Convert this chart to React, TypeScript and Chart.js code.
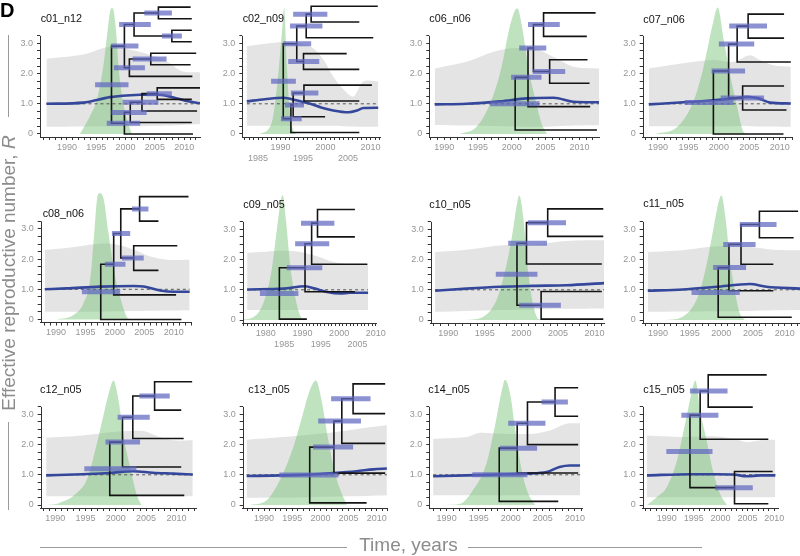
import React, { useEffect, useRef } from 'react';
import { Chart, registerables } from 'chart.js';

Chart.register(...registerables);

const FONT = "Arial, 'Liberation Sans', Helvetica, sans-serif";
const W = 800;
const H = 556;

// ---------------- data ----------------
const PANEL_NAMES = ['c01_n12', 'c02_n09', 'c06_n06', 'c07_n06', 'c08_n06', 'c09_n05', 'c10_n05', 'c11_n05', 'c12_n05', 'c13_n05', 'c14_n05', 'c15_n05'];

// time axis domain per panel (years)
const X_DOMAIN = [
  [1985.4, 2012.7], [1981.5, 2012.1], [1987.8, 2012.9], [1987.5, 2012.0],
  [1987.4, 2013.1], [1973.7, 2010.3], [1987.6, 2011.3], [1987.6, 2012.4],
  [1987.6, 2013.4], [1986.2, 2012.0], [1987.3, 2011.1], [1985.5, 2010.7],
];
const YEARS_1990 = [1990, 1995, 2000, 2005, 2010];
const YEARS_1985 = [1985, 1990, 1995, 2000, 2005, 2010];
const YEARS_1980 = [1980, 1985, 1990, 1995, 2000, 2005, 2010];
const X_LABELED_YEARS = [YEARS_1990, YEARS_1985, YEARS_1990, YEARS_1990, YEARS_1990, YEARS_1980, YEARS_1990, YEARS_1990, YEARS_1990, YEARS_1990, YEARS_1990, YEARS_1990];
const R_LABELS = [0, 1, 2, 3];
const R_MINOR_STEP = 0.25;
const R_AXIS_TOP = 3.25;

// effective reproductive number (median) [year, R]
const RT_LINES = [
  [[1986.5, 1.0], [1992.8, 1.04], [1997.35, 1.22], [2002.5, 1.3], [2005.3, 1.31], [2008.2, 1.21], [2010.2, 1.1], [2012.7, 1.02]],
  [[1982.5, 1.08], [1986.5, 1.15], [1990.6, 1.2], [1993.5, 1.12], [1996.6, 1.0], [1999, 0.88], [2001.7, 0.78], [2005.1, 0.72], [2007, 0.78], [2008.4, 0.86], [2011.7, 0.87]],
  [[1988.6, 0.98], [1993.3, 1.0], [1998.3, 1.08], [2002.2, 1.18], [2006.2, 1.2], [2009.1, 1.07], [2012.9, 1.05]],
  [[1988.5, 0.98], [1994.2, 1.05], [1999.1, 1.12], [2002.4, 1.18], [2004.6, 1.23], [2006.5, 1.18], [2008.4, 1.04], [2011.8, 1.01]],
  [[1988.1, 1.0], [1991.8, 1.03], [1997.5, 1.09], [2003.2, 1.11], [2004.9, 1.09], [2007.7, 0.96], [2010.0, 0.92], [2012.7, 0.92]],
  [[1974.9, 1.01], [1984.8, 1.04], [1990.7, 1.12], [1993.4, 1.04], [1996.7, 0.93], [2000.3, 0.88], [2003.0, 0.9], [2007.9, 0.9]],
  [[1988.2, 0.97], [1992.5, 1.04], [1997.1, 1.1], [2001.6, 1.13], [2006.2, 1.15], [2011.3, 1.22]],
  [[1988.4, 0.97], [1993.9, 1.01], [1999.2, 1.1], [2004.5, 1.19], [2007.1, 1.1], [2012.4, 1.04]],
  [[1988.5, 0.98], [1994.5, 1.02], [1999.0, 1.06], [2002.8, 1.12], [2006.1, 1.07], [2009.5, 1.04], [2012.7, 1.01]],
  [[1986.9, 0.96], [1993.4, 0.98], [1998.1, 1.01], [2002.3, 1.06], [2006.4, 1.12], [2009.4, 1.18], [2011.8, 1.21]],
  [[1987.9, 0.95], [1993.1, 0.98], [1998.3, 1.01], [2002.5, 1.04], [2005.6, 1.09], [2007.6, 1.26], [2009.2, 1.31], [2010.8, 1.31]],
  [[1986.3, 0.98], [1994.3, 1.02], [1999.3, 1.02], [2002.4, 1.01], [2004.9, 0.95], [2007.4, 0.98], [2010.2, 0.98]],
];

// credible band of R: [year, lower, upper]
const BANDS = [
  [[1986.5, 0.24, 2.49], [1992.8, 0.25, 2.63], [1997.35, 0.25, 2.88], [2003.0, 0.26, 2.69], [2007.0, 0.28, 2.41], [2009.6, 0.3, 2.08], [2012.7, 0.33, 2.04]],
  [[1982.5, 0.27, 2.91], [1990.6, 0.27, 3.04], [1996.6, 0.27, 2.9], [1999.5, 0.27, 2.47], [2001.7, 0.27, 1.9], [2004.0, 0.26, 1.47], [2006.2, 0.25, 1.24], [2008.4, 0.24, 1.74], [2011.7, 0.24, 1.74]],
  [[1988.6, 0.3, 2.17], [1993.3, 0.28, 2.39], [1998.3, 0.26, 2.78], [2003.2, 0.24, 2.83], [2006.65, 0.26, 2.5], [2009.1, 0.28, 2.23], [2012.9, 0.3, 2.17]],
  [[1988.5, 0.26, 2.17], [1994.2, 0.26, 2.34], [1999.1, 0.26, 2.45], [2002.4, 0.26, 2.39], [2005.1, 0.26, 2.61], [2006.75, 0.25, 2.45], [2008.9, 0.25, 2.28], [2011.8, 0.24, 2.23]],
  [[1988.1, 0.26, 2.31], [1991.8, 0.26, 2.37], [1997.5, 0.26, 2.51], [2000.3, 0.27, 2.48], [2003.2, 0.28, 2.31], [2006.0, 0.29, 2.09], [2008.9, 0.3, 1.98], [2012.7, 0.31, 1.98]],
  [[1974.9, 0.33, 2.22], [1984.8, 0.33, 2.29], [1989.4, 0.33, 2.25], [1993.9, 0.33, 2.11], [1998.5, 0.33, 1.92], [2003.0, 0.33, 1.84], [2007.9, 0.33, 1.84]],
  [[1988.2, 0.27, 2.25], [1992.5, 0.3, 2.33], [1997.1, 0.33, 2.47], [2001.6, 0.35, 2.5], [2006.2, 0.37, 2.62], [2011.3, 0.38, 2.64]],
  [[1988.4, 0.27, 2.25], [1993.9, 0.28, 2.31], [1999.2, 0.29, 2.44], [2004.5, 0.3, 2.42], [2008.2, 0.32, 2.33], [2012.4, 0.33, 2.31]],
  [[1988.5, 0.29, 2.23], [1994.5, 0.29, 2.3], [1999.0, 0.29, 2.41], [2004.5, 0.29, 2.45], [2007.2, 0.29, 2.25], [2009.5, 0.29, 2.14], [2012.7, 0.29, 2.14]],
  [[1986.9, 0.24, 2.16], [1993.4, 0.25, 2.25], [1998.1, 0.26, 2.33], [2002.3, 0.28, 2.41], [2008.2, 0.3, 2.56], [2011.8, 0.32, 2.64]],
  [[1987.9, 0.32, 2.19], [1993.1, 0.32, 2.25], [1995.2, 0.32, 2.39], [1998.3, 0.32, 2.36], [2003.5, 0.32, 2.36], [2006.1, 0.32, 2.47], [2008.7, 0.32, 2.69], [2010.8, 0.32, 2.71]],
  [[1986.3, 0.26, 2.3], [1993.1, 0.26, 2.25], [1999.3, 0.26, 2.27], [2002.4, 0.26, 2.19], [2004.9, 0.26, 2.08], [2007.4, 0.26, 2.14], [2010.2, 0.26, 2.16]],
];

// root-height density (scaled) [year, height]
const DENSITIES = [
  [[1992.2, 0], [1993.9, 0.58], [1995.1, 1.13], [1996.2, 2.24], [1996.9, 3.36], [1997.46, 4.13], [1997.7, 4.17], [1997.9, 4.13], [1998.4, 3.36], [1998.8, 2.24], [1999.5, 1.13], [2000.1, 0.58], [2001.1, 0]],
  [[1985.4, 0], [1988.0, 0.36], [1989.3, 1.69], [1990.3, 3.36], [1990.8, 4.19], [1991.4, 2.24], [1992.0, 0.8], [1992.8, 0.13], [1993.6, 0]],
  [[1992.3, 0], [1994.8, 0.24], [1997.0, 1.12], [1998.5, 2.23], [1999.7, 3.55], [2000.8, 4.16], [2001.6, 3.44], [2002.4, 2.23], [2003.4, 1.23], [2004.4, 0.35], [2005.2, 0]],
  [[1989.6, 0], [1993.2, 0.24], [1995.9, 1.12], [1997.5, 2.23], [1998.9, 3.55], [1999.8, 4.19], [2000.8, 3.11], [2001.9, 1.9], [2003.0, 0.9], [2004.0, 0.08], [2004.6, 0]],
  [[1990.1, 0], [1992.9, 0.14], [1994.65, 0.53], [1995.8, 1.31], [1996.5, 2.87], [1997.0, 4.03], [1997.4, 4.18], [1998.1, 3.98], [1998.9, 2.87], [2000.05, 1.42], [2001.2, 0.53], [2002.0, 0.09], [2002.6, 0]],
  [[1973.7, 0.02], [1975.7, 0.05], [1979.3, 0.55], [1981.6, 1.65], [1983.0, 2.97], [1984.1, 3.96], [1984.6, 4.14], [1985.5, 3.3], [1986.6, 1.87], [1988.0, 0.77], [1989.3, 0.16], [1990.7, 0]],
  [[1992.5, 0], [1994.8, 0.11], [1996.6, 0.66], [1997.8, 1.65], [1998.7, 2.75], [1999.4, 3.85], [1999.7, 4.12], [2000.3, 3.3], [2000.8, 1.87], [2001.4, 0.77], [2002.1, 0.11], [2002.6, 0]],
  [[1991.3, 0], [1993.9, 0.11], [1996.3, 0.77], [1997.6, 1.76], [1998.7, 2.97], [1999.5, 3.85], [2000.0, 4.12], [2000.7, 3.3], [2001.3, 2.09], [2002.1, 0.99], [2002.9, 0.22], [2003.7, 0]],
  [[1988.5, 0], [1990.7, 0.07], [1993.4, 0.37], [1995.4, 0.93], [1997.0, 2.14], [1998.4, 3.35], [1999.2, 3.96], [1999.6, 4.12], [2000.3, 3.64], [2001.4, 2.14], [2002.6, 1.04], [2003.4, 0.37], [2004.2, 0]],
  [[1987.5, 0], [1990.4, 0.15], [1992.8, 0.82], [1995.2, 1.92], [1996.9, 3.02], [1998.1, 3.79], [1999.2, 4.12], [2000.2, 3.46], [2001.4, 2.14], [2002.6, 1.04], [2003.8, 0.37], [2004.7, 0]],
  [[1990.0, 0], [1992.1, 0.04], [1994.1, 0.49], [1996.2, 1.37], [1997.5, 2.58], [1998.6, 3.79], [1999.1, 4.15], [1999.9, 3.68], [2000.7, 2.47], [2001.7, 1.15], [2002.7, 0.38], [2003.8, 0]],
  [[1986.3, 0], [1988.1, 0.26], [1990.0, 0.6], [1991.9, 1.48], [1993.4, 2.69], [1994.7, 3.79], [1995.3, 4.12], [1996.2, 3.13], [1997.4, 2.14], [1998.7, 1.04], [1999.9, 0.37], [2001.2, 0]],
];

// tree tips: sampling times, bottom tip first
const TIP_TIMES = [
  [2011.5, 2011.3, 2012.2, 2011.3, 2012.7, 2011.4, 2011.1, 2012.05, 2011.3, 2011.3, 2011.3, 2011.1],
  [2007.5, 1999.9, 2007.5, 2010.3, 2007.5, 2004.7, 2010.6, 2007.5, 2011.6],
  [2012.6, 2011.6, 2011.5, 2011.2, 2011.1, 2012.4],
  [2010.6, 2011.1, 2010.7, 2011.8, 2010.7, 2010.7],
  [2011.3, 2010.4, 2007.4, 2010.6, 2007.4, 2012.5],
  [1991.2, 2004.3, 2007.7, 2004.3, 2004.3],
  [2011.2, 2011.0, 2011.0, 2011.2, 2011.2],
  [2011.1, 2008.2, 2008.2, 2011.4, 2012.1],
  [2011.3, 2010.8, 2011.2, 2010.8, 2012.6],
  [2008.2, 2011.5, 2011.5, 2011.5, 2011.5],
  [2007.4, 2010.5, 2010.5, 2010.5, 2010.5],
  [2008.9, 2009.7, 2008.9, 2006.0, 2008.6],
];
// vertical extent of the tips, on the R scale
const TIP_Y_RANGE = [
  [0, 4.2], [0.05, 4.23], [0.13, 4.01], [0, 3.97], [0, 4.07], [0.03, 3.66],
  [0.03, 3.68], [0.09, 3.6], [0.32, 4.08], [0.07, 4.01], [0.12, 3.88], [0.04, 4.31],
];
// internal nodes: [time, childA, childB, hpdLow, hpdHigh]; children index tips first, then nodes in order
const NODES = [
  [
    [2005.6, 11, 10, 2003.2, 2007.9], [2007.9, 9, 8, 2006.2, 2009.6], [2001.45, 12, 13, 1998.9, 2004.3],
    [2004.3, 7, 6, 2001.2, 2007.0], [2000.65, 15, 5, 1998.0, 2003.3], [1999.8, 14, 16, 1997.5, 2002.2],
    [2005.4, 4, 3, 2003.6, 2007.9], [2002.8, 18, 2, 1999.5, 2005.6], [2000.8, 19, 1, 1997.6, 2003.6],
    [1999.8, 20, 0, 1996.8, 2002.5], [1997.6, 17, 21, 1994.8, 2000.5],
  ],
  [
    [1996.8, 8, 7, 1992.8, 2000.4], [1995.7, 9, 6, 1992.1, 1999.3], [1995.1, 5, 4, 1991.7, 1998.6],
    [1993.6, 10, 11, 1990.6, 1996.8], [1995.2, 3, 2, 1992.3, 1998.4], [1992.8, 13, 1, 1991.0, 1995.2],
    [1992.3, 14, 0, 1990.1, 1994.7], [1990.6, 12, 15, 1987.9, 1993.4],
  ],
  [
    [2004.7, 5, 4, 2002.4, 2007.1], [2005.6, 3, 2, 2003.1, 2007.9], [2003.2, 6, 7, 2001.1, 2005.1],
    [2002.4, 8, 1, 1999.9, 2004.4], [2000.5, 9, 0, 1996.8, 2004.1],
  ],
  [
    [2004.8, 5, 4, 2001.7, 2007.9], [2003.0, 6, 3, 2000.0, 2005.8], [2003.9, 2, 1, 2000.3, 2007.4],
    [2001.6, 7, 8, 1998.8, 2004.3], [1999.1, 9, 0, 1994.4, 2002.4],
  ],
  [
    [2004.2, 5, 4, 2002.9, 2005.7], [2003.2, 3, 2, 2001.2, 2004.9], [2001.0, 6, 7, 1999.5, 2002.6],
    [1999.8, 8, 1, 1998.3, 2001.8], [1997.6, 9, 0, 1994.4, 2000.9],
  ],
  [
    [1994.1, 4, 3, 1989.6, 1998.7], [1992.5, 5, 2, 1988.0, 1997.3], [1990.7, 6, 1, 1985.7, 1995.4],
    [1983.7, 7, 0, 1978.4, 1988.9],
  ],
  [
    [2003.6, 4, 3, 2000.9, 2006.1], [2000.7, 5, 2, 1998.2, 2003.5], [2002.7, 1, 0, 1999.7, 2005.4],
    [1999.4, 6, 7, 1996.5, 2002.2],
  ],
  [
    [2006.0, 4, 3, 2002.9, 2008.7], [2003.1, 5, 2, 2000.3, 2005.4], [2001.2, 6, 1, 1998.7, 2003.9],
    [1999.5, 7, 0, 1995.3, 2002.9],
  ],
  [
    [2006.4, 4, 3, 2003.9, 2008.9], [2002.8, 5, 2, 2000.3, 2005.6], [2001.1, 6, 1, 1998.3, 2004.0],
    [1999.0, 7, 0, 1994.8, 2003.4],
  ],
  [
    [2005.8, 4, 3, 2001.9, 2008.9], [2003.8, 5, 2, 1999.6, 2007.2], [2002.4, 6, 1, 1998.7, 2005.8],
    [1998.1, 7, 0, 1992.7, 2003.2],
  ],
  [
    [2006.9, 4, 3, 2004.8, 2008.9], [2002.6, 5, 2, 1999.6, 2005.4], [2001.0, 6, 1, 1998.3, 2004.1],
    [1998.2, 7, 0, 1994.0, 2002.6],
  ],
  [
    [1997.7, 4, 3, 1994.3, 2001.3], [1996.2, 5, 2, 1992.7, 1999.6], [2002.6, 1, 0, 1999.0, 2006.0],
    [1994.3, 6, 7, 1989.9, 1998.5],
  ],
];

// ---------------- layout (pixels) ----------------
// [y-axis x, x-axis right end x, pixel of R = 0]
const PANEL_BOX = [
  [40, 200, 134], [242.3, 380, 134], [429.3, 599, 134], [642.7, 792, 134],
  [40.7, 192, 319.5], [242.7, 376.9, 320], [430.7, 604, 320], [642.7, 800, 320],
  [40.7, 197, 505], [242.7, 388, 505], [429.3, 582, 505], [642.7, 778, 505],
];
const TITLE_POS = [
  [40.7, 18.3], [242.7, 18.3], [429.3, 18.3], [643.3, 19.3],
  [42.7, 213], [243.3, 204.3], [429.3, 204.3], [643.3, 203.3],
  [40, 389.3], [248.3, 389.3], [428.3, 389.3], [643.3, 389.3],
];
const STAGGERED = [false, true, false, false, false, true, false, false, false, false, false, false];
const UNIT_PX = 30.2;
const Y_MIN = -0.1;
const Y_MAX = 4.4;
const YW = 30;
const XH = 30;

const TICK_TEXT = '#969696';
const AXIS_COLOR = '#333333';

function treeGeometry(p: number) {
  const tips = TIP_TIMES[p];
  const [y0, y1] = TIP_Y_RANGE[p];
  const n = tips.length;
  const t: number[] = tips.slice();
  const y: number[] = tips.map((_, i) => y0 + (i * (y1 - y0)) / (n - 1));
  const lines: { x: number; y: number | null }[] = [];
  const bars: { x: number; y: number | null }[] = [];
  NODES[p].forEach(([time, a, b, lo, hi]) => {
    const ya = y[a];
    const yb = y[b];
    lines.push({ x: t[a], y: ya }, { x: time, y: ya }, { x: time, y: yb }, { x: t[b], y: yb }, { x: t[b], y: null });
    const ym = (ya + yb) / 2;
    t.push(time);
    y.push(ym);
    bars.push({ x: lo, y: ym }, { x: hi, y: ym }, { x: hi, y: null });
  });
  return { lines, bars };
}

const yAxisLinePlugin = {
  id: 'yAxisLine',
  afterDatasetsDraw(chart: any) {
    const ys = chart.scales.y;
    const ctx = chart.ctx;
    const x = Math.round(chart.chartArea.left) + 0.5;
    ctx.save();
    ctx.strokeStyle = AXIS_COLOR;
    ctx.lineWidth = 1;
    ctx.beginPath();
    ctx.moveTo(x, ys.getPixelForValue(Y_MIN));
    ctx.lineTo(x, ys.getPixelForValue(R_AXIS_TOP));
    ctx.stroke();
    ctx.restore();
  },
};

function makeConfig(p: number): any {
  const [axL, axR, zeroY] = PANEL_BOX[p];
  const top = zeroY - Y_MAX * UNIT_PX;
  const bottom = zeroY - Y_MIN * UNIT_PX;
  const [xmin, xmax] = X_DOMAIN[p];
  const { lines, bars } = treeGeometry(p);
  const band = BANDS[p];
  const dashEnds = [band[0][0], band[band.length - 1][0]];
  const labeled = X_LABELED_YEARS[p];

  return {
    type: 'line',
    data: {
      datasets: [
        { data: band.map((r) => ({ x: r[0], y: r[2] })), borderWidth: 0, pointRadius: 0, backgroundColor: '#e4e4e4', fill: '+1', tension: 0.3, order: 9 },
        { data: band.map((r) => ({ x: r[0], y: r[1] })), borderWidth: 0, pointRadius: 0, fill: false, tension: 0.3, order: 9 },
        { data: DENSITIES[p].map(([x, y]) => ({ x, y })), borderWidth: 0, pointRadius: 0, backgroundColor: 'rgba(112,190,112,0.45)', fill: 'origin', cubicInterpolationMode: 'monotone', order: 8 },
        { data: dashEnds.map((x) => ({ x, y: 1 })), borderColor: '#555555', borderWidth: 1, borderDash: [3, 3], pointRadius: 0, fill: false, order: 6 },
        { data: RT_LINES[p].map(([x, y]) => ({ x, y })), borderColor: '#34479b', borderWidth: 2.6, pointRadius: 0, fill: false, cubicInterpolationMode: 'monotone', order: 4 },
        { data: lines, borderColor: '#141414', borderWidth: 1.6, pointRadius: 0, fill: false, spanGaps: false, borderCapStyle: 'butt', borderJoinStyle: 'miter', order: 2 },
        { data: bars, borderColor: 'rgba(95,103,192,0.72)', borderWidth: 5, pointRadius: 0, fill: false, spanGaps: false, borderCapStyle: 'butt', order: 1 },
      ],
    },
    options: {
      responsive: false,
      animation: false,
      events: [],
      layout: {
        autoPadding: false,
        padding: { left: axL - YW, right: W - axR, top, bottom: H - bottom - XH },
      },
      plugins: { legend: { display: false }, tooltip: { enabled: false }, title: { display: false } },
      scales: {
        x: {
          type: 'linear',
          min: xmin,
          max: xmax,
          afterBuildTicks: (s: any) => {
            const arr = [];
            for (let v = Math.ceil(xmin); v <= Math.floor(xmax); v++) arr.push({ value: v });
            s.ticks = arr;
          },
          afterFit: (s: any) => {
            s.height = XH;
            s.paddingLeft = 0;
            s.paddingRight = 0;
          },
          ticks: {
            autoSkip: false,
            maxRotation: 0,
            minRotation: 0,
            padding: 2,
            color: TICK_TEXT,
            font: { family: FONT, size: 9 },
            callback: (value: any) => {
              const v = Number(value);
              if (!labeled.includes(v)) return '';
              if (STAGGERED[p] && v % 10 !== 0) return ['', String(v)];
              return String(v);
            },
          },
          grid: { drawOnChartArea: false, drawTicks: true, tickLength: 3, color: AXIS_COLOR, lineWidth: 1 },
          border: { display: true, color: AXIS_COLOR, width: 1 },
        },
        y: {
          type: 'linear',
          min: Y_MIN,
          max: Y_MAX,
          afterBuildTicks: (s: any) => {
            const arr = [];
            for (let v = 0; v <= R_AXIS_TOP + 1e-9; v += R_MINOR_STEP) arr.push({ value: v });
            s.ticks = arr;
          },
          afterFit: (s: any) => {
            s.width = YW;
            s.paddingTop = 0;
            s.paddingBottom = 0;
          },
          ticks: {
            autoSkip: false,
            padding: 4,
            color: TICK_TEXT,
            font: { family: FONT, size: 9 },
            callback: (value: any) => {
              const v = Number(value);
              if (!R_LABELS.includes(v)) return '';
              return v === 0 ? '0' : v.toFixed(1);
            },
          },
          grid: { drawOnChartArea: false, drawTicks: true, tickLength: 3, color: AXIS_COLOR, lineWidth: 1 },
          border: { display: false },
        },
      },
    },
    plugins: [yAxisLinePlugin],
  };
}

function PanelChart({ p }: { p: number }) {
  const ref = useRef<HTMLCanvasElement>(null);
  useEffect(() => {
    if (!ref.current) return;
    const chart = new Chart(ref.current, makeConfig(p));
    return () => chart.destroy();
  }, [p]);
  return (
    <canvas
      ref={ref}
      width={W}
      height={H}
      style={{ position: 'absolute', left: 0, top: 0, width: W, height: H }}
    />
  );
}

export default function App() {
  const grey = '#8c8c8c';
  return (
    <div
      style={{
        position: 'fixed',
        left: 0,
        top: 0,
        width: W,
        height: H,
        background: '#ffffff',
        overflow: 'hidden',
        fontFamily: FONT,
      }}
    >
      {PANEL_NAMES.map((_, p) => (
        <PanelChart key={p} p={p} />
      ))}
      {PANEL_NAMES.map((name, p) => (
        <div
          key={'t' + p}
          style={{
            position: 'absolute',
            left: TITLE_POS[p][0],
            top: TITLE_POS[p][1] - 7,
            fontSize: 10.8,
            lineHeight: '14px',
            color: '#111',
            whiteSpace: 'nowrap',
          }}
        >
          {name}
        </div>
      ))}
      <div style={{ position: 'absolute', left: 0, top: 0, fontSize: 20, fontWeight: 'bold', lineHeight: '20px', color: '#000' }}>D</div>
      <div
        style={{
          position: 'absolute',
          left: 8.5 - 170,
          top: 272.5 - 10,
          width: 340,
          textAlign: 'center',
          fontSize: 19,
          lineHeight: '20px',
          color: grey,
          whiteSpace: 'nowrap',
          transform: 'rotate(-90deg)',
        }}
      >
        Effective reproductive number, <i>R</i>
      </div>
      <div style={{ position: 'absolute', left: 8, top: 35, width: 1.3, height: 82, background: '#9a9a9a' }} />
      <div style={{ position: 'absolute', left: 8, top: 422, width: 1.3, height: 88, background: '#9a9a9a' }} />
      <div
        style={{
          position: 'absolute',
          left: 308.5,
          top: 535.4,
          width: 200,
          textAlign: 'center',
          fontSize: 19,
          lineHeight: '20px',
          color: grey,
          whiteSpace: 'nowrap',
        }}
      >
        Time, years
      </div>
      <div style={{ position: 'absolute', left: 40, top: 547, width: 307, height: 1.3, background: '#9a9a9a' }} />
      <div style={{ position: 'absolute', left: 468, top: 547, width: 234, height: 1.3, background: '#9a9a9a' }} />
    </div>
  );
}
